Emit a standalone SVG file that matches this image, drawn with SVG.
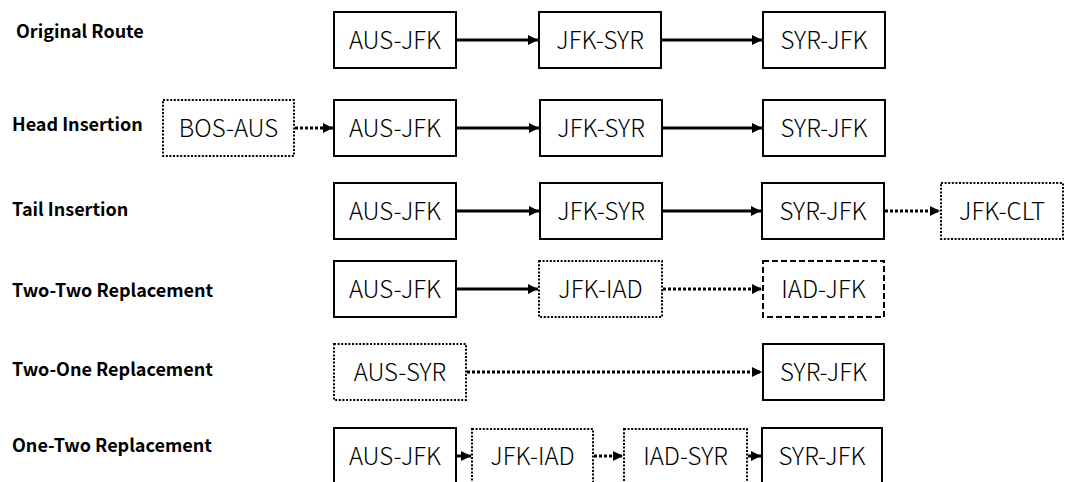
<svg xmlns="http://www.w3.org/2000/svg" width="1066" height="482" viewBox="0 0 1066 482">
<style>
.lbl{font-family:"Noto Sans CJK SC","Liberation Sans",sans-serif;font-weight:bold;font-size:18px;fill:#000}
.bt{font-family:"Noto Sans CJK SC","Liberation Sans",sans-serif;font-weight:300;font-size:24px;fill:#000;text-anchor:middle}
.solid{fill:#fff;stroke:#000;stroke-width:2}
.dot{fill:#fff;stroke:#000;stroke-width:2;stroke-dasharray:2 1.6}
.dash{fill:#fff;stroke:#000;stroke-width:2;stroke-dasharray:6 3}
.a{stroke:#000;stroke-width:3;fill:none;marker-end:url(#ah)}
.ad{stroke:#000;stroke-width:3;fill:none;stroke-dasharray:3 2;marker-end:url(#ah)}
</style>
<defs>
<marker id="ah" markerUnits="userSpaceOnUse" markerWidth="11" markerHeight="11" refX="10" refY="5" orient="auto">
<path d="M0,0 L10,5 L0,10 Z" fill="#000"/>
</marker>
</defs>
<rect width="1066" height="482" fill="#fff"/>
<g id="labels">
<text class="lbl" x="16" y="38">Original Route</text>
<text class="lbl" x="12" y="131">Head Insertion</text>
<text class="lbl" x="12" y="216">Tail Insertion</text>
<text class="lbl" x="12" y="297">Two-Two Replacement</text>
<text class="lbl" x="12" y="376">Two-One Replacement</text>
<text class="lbl" x="12" y="452">One-Two Replacement</text>
</g>
<g id="connectors">
<line class="a" x1="457" y1="40" x2="538" y2="40"/>
<line class="a" x1="661" y1="40" x2="762" y2="40"/>
<line class="ad" x1="295" y1="128" x2="333" y2="128"/>
<line class="a" x1="457" y1="128" x2="539" y2="128"/>
<line class="a" x1="663" y1="128" x2="762" y2="128"/>
<line class="a" x1="457" y1="211" x2="539" y2="211"/>
<line class="a" x1="663" y1="211" x2="761" y2="211"/>
<line class="ad" x1="885" y1="211" x2="940" y2="211"/>
<line class="a" x1="457" y1="289" x2="538" y2="289"/>
<line class="ad" x1="663" y1="289" x2="762" y2="289"/>
<line class="ad" x1="467" y1="372" x2="762" y2="372"/>
<line class="a" x1="457" y1="456" x2="471" y2="456"/>
<line class="ad" x1="594" y1="456" x2="623" y2="456"/>
<line class="a" x1="748" y1="456" x2="761" y2="456"/>
</g>
<g id="r1-aus-jfk"><rect class="solid" x="334" y="12" width="122" height="56"/><text class="bt" x="395" y="49">AUS-JFK</text></g>
<g id="r1-jfk-syr"><rect class="solid" x="539" y="12" width="122" height="56"/><text class="bt" x="600" y="49">JFK-SYR</text></g>
<g id="r1-syr-jfk"><rect class="solid" x="763" y="12" width="122" height="56"/><text class="bt" x="824" y="49">SYR-JFK</text></g>
<g id="r2-bos-aus"><rect class="dot" x="163" y="100" width="131" height="56"/><text class="bt" x="228.5" y="137">BOS-AUS</text></g>
<g id="r2-aus-jfk"><rect class="solid" x="334" y="100" width="122" height="56"/><text class="bt" x="395" y="137">AUS-JFK</text></g>
<g id="r2-jfk-syr"><rect class="solid" x="540" y="100" width="122" height="56"/><text class="bt" x="601" y="137">JFK-SYR</text></g>
<g id="r2-syr-jfk"><rect class="solid" x="763" y="100" width="122" height="56"/><text class="bt" x="824" y="137">SYR-JFK</text></g>
<g id="r3-aus-jfk"><rect class="solid" x="334" y="183" width="122" height="56"/><text class="bt" x="395" y="220">AUS-JFK</text></g>
<g id="r3-jfk-syr"><rect class="solid" x="540" y="183" width="122" height="56"/><text class="bt" x="601" y="220">JFK-SYR</text></g>
<g id="r3-syr-jfk"><rect class="solid" x="762" y="183" width="122" height="56"/><text class="bt" x="823" y="220">SYR-JFK</text></g>
<g id="r3-jfk-clt"><rect class="dot" x="941" y="183" width="122" height="56"/><text class="bt" x="1002" y="220">JFK-CLT</text></g>
<g id="r4-aus-jfk"><rect class="solid" x="334" y="261" width="122" height="56"/><text class="bt" x="395" y="298">AUS-JFK</text></g>
<g id="r4-jfk-iad"><rect class="dot" x="539" y="261" width="123" height="56"/><text class="bt" x="600.5" y="298">JFK-IAD</text></g>
<g id="r4-iad-jfk"><rect class="dash" x="763" y="261" width="121" height="56"/><text class="bt" x="823.5" y="298">IAD-JFK</text></g>
<g id="r5-aus-syr"><rect class="dot" x="334" y="344" width="132" height="56"/><text class="bt" x="400" y="381">AUS-SYR</text></g>
<g id="r5-syr-jfk"><rect class="solid" x="763" y="344" width="121" height="56"/><text class="bt" x="823.5" y="381">SYR-JFK</text></g>
<g id="r6-aus-jfk"><rect class="solid" x="334" y="428" width="122" height="56"/><text class="bt" x="395" y="465">AUS-JFK</text></g>
<g id="r6-jfk-iad"><rect class="dot" x="472" y="429" width="121" height="56"/><text class="bt" x="532.5" y="465">JFK-IAD</text></g>
<g id="r6-iad-syr"><rect class="dot" x="624" y="429" width="123" height="56"/><text class="bt" x="685.5" y="465">IAD-SYR</text></g>
<g id="r6-syr-jfk"><rect class="solid" x="762" y="428" width="120" height="56"/><text class="bt" x="822" y="465">SYR-JFK</text></g>
</svg>
